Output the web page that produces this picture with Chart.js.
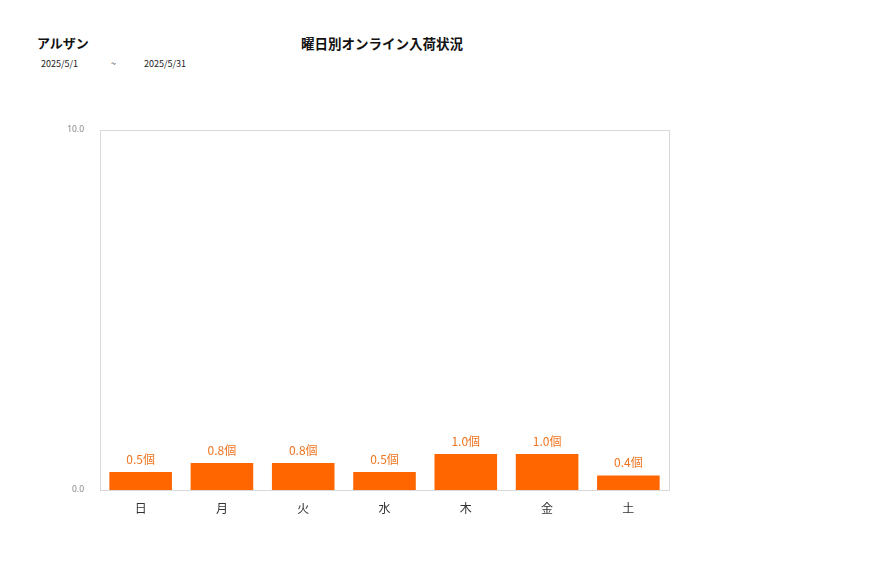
<!DOCTYPE html>
<html lang="ja">
<head>
    <meta charset="UTF-8" />
    <title>曜日別オンライン入荷状況</title>
    <script src="https://cdn.jsdelivr.net/npm/chart.js"></script>
    <style>
        body { margin: 0; background: #fff; font-family: "Noto Sans CJK JP", "Noto Sans", sans-serif; }
        #wrap { position: relative; width: 877px; height: 578px; }
        #shop { position: absolute; left: 37px; top: 33px; font-size: 13px; font-weight: bold; color: #111; }
        #period { position: absolute; left: 41px; top: 57px; font-size: 9px; color: #222; }
        #period span { display: inline-block; }
        #title { position: absolute; left: 301px; top: 33px; font-size: 13.5px; font-weight: bold; color: #111; }
        canvas { position: absolute; left: 0; top: 0; }
    </style>
</head>
<body>
    <div id="wrap">
        <div id="shop">アルザン</div>
        <div id="period"><span style="width:70px">2025/5/1</span><span style="width:33px">~</span><span>2025/5/31</span></div>
        <div id="title">曜日別オンライン入荷状況</div>
        <canvas id="chart" width="877" height="578"></canvas>
    </div>

    <script>
        // 曜日別データ
        const days = ['日', '月', '火', '水', '木', '金', '土'];
        const counts = [0.5, 0.75, 0.75, 0.5, 1.0, 1.0, 0.4];
        const yTicks = [0, 10];

        // 枠線
        const frame = {
            id: 'frame',
            afterDraw(chart) {
                const { ctx, chartArea: a } = chart;
                ctx.save();
                ctx.strokeStyle = '#d9d9d9';
                ctx.lineWidth = 1;
                ctx.strokeRect(a.left + 0.5, a.top + 0.5, a.right - a.left, a.bottom - a.top);
                ctx.restore();
            }
        };

        // 値ラベル
        const valueLabels = {
            id: 'valueLabels',
            afterDatasetsDraw(chart) {
                const { ctx } = chart;
                const meta = chart.getDatasetMeta(0);
                ctx.save();
                ctx.fillStyle = '#ef7420';
                ctx.font = '12px "Noto Sans CJK JP", sans-serif';
                ctx.textAlign = 'center';
                ctx.textBaseline = 'bottom';
                meta.data.forEach((bar, i) => {
                    ctx.fillText(counts[i].toFixed(1) + '個', bar.x, bar.y - 7);
                });
                ctx.restore();
            }
        };

        new Chart(document.getElementById('chart'), {
            type: 'bar',
            data: {
                labels: days,
                datasets: [{
                    data: counts,
                    backgroundColor: '#ff6600',
                    barPercentage: 0.77,
                    categoryPercentage: 1
                }]
            },
            options: {
                responsive: false,
                animation: false,
                layout: { padding: { left: 0, right: 208, top: 130, bottom: 0 } },
                scales: {
                    x: {
                        grid: { display: false },
                        border: { display: false },
                        ticks: { color: '#333', font: { size: 12, family: '"Noto Sans CJK JP", sans-serif' }, padding: 3 },
                        afterFit(s) { s.height = 88; }
                    },
                    y: {
                        min: yTicks[0],
                        max: yTicks[1],
                        afterBuildTicks(s) { s.ticks = yTicks.map(v => ({ value: v })); },
                        grid: { display: false },
                        border: { display: false },
                        ticks: {
                            color: '#888',
                            font: { size: 8.5, family: '"Noto Sans", sans-serif' },
                            padding: 8,
                            callback: v => Number(v).toFixed(1)
                        },
                        afterFit(s) { s.width = 100; }
                    }
                },
                plugins: {
                    legend: { display: false },
                    tooltip: { enabled: false }
                }
            },
            plugins: [frame, valueLabels]
        });
    </script>
</body>
</html>
